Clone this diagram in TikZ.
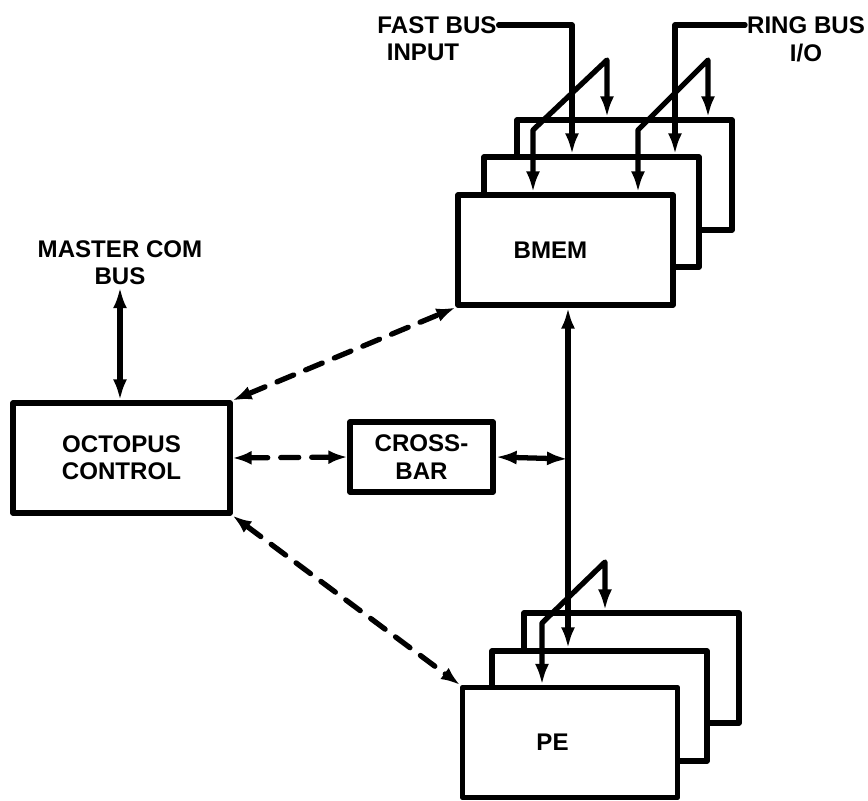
\documentclass[tikz,border=0pt]{standalone}
\usepackage{fontspec}
\setmainfont{Liberation Sans}
\usepackage{tikz}
\usetikzlibrary{arrows.meta,calc,positioning}

\begin{document}
\begin{tikzpicture}[>={Latex[length=0.42cm,width=0.28cm]}, line cap=round, line join=round,
   font=\fontsize{13.7pt}{15.5pt}\selectfont\bfseries,
   blockbox/.style={draw, fill=white, line width=3pt, minimum width=4.3cm, minimum height=2.2cm, inner sep=0pt, align=center},
   lbl/.style={inner sep=1pt, align=center},
   wire/.style={line width=3pt},
   dashlink/.style={line width=3pt, dash pattern=on 0.36cm off 0.26cm, <->, >={Latex[length=0.38cm,width=0.28cm]}}]
   \path[use as bounding box] (0,0) rectangle (17.36,16); % keep the page proportions
   % OCTOPUS: control, crossbar, stacked BMEM and PE units

   % stacked BMEM units (back to front)
   \node[blockbox] (bmem3) at (12.49,12.50) {};
   \node[blockbox] (bmem2) at (11.83,11.76) {};
   \node[blockbox] (bmem) at (11.31,11.00) {BMEM\hspace*{0.6cm}};

   % stacked PE units (back to front)
   \node[blockbox] (pe3) at (12.63,2.64) {};
   \node[blockbox] (pe2) at (11.99,1.88) {};
   \node[blockbox] (pe) at (11.40,1.15) {PE\hspace*{0.7cm}};

   \node[blockbox, minimum width=4.34cm] (octopus) at (2.43,6.84) {OCTOPUS\\CONTROL};
   \node[blockbox, minimum width=2.86cm, minimum height=1.4cm] (crossbar) at (8.43,6.86) {CROSS-\\BAR};

   % bus labels
   \node[lbl] (fast) at (8.74,15.50) {FAST BUS};
   \node[lbl, below=0.12cm of fast, xshift=-0.28cm] (fastin) {INPUT};
   \node[lbl] (ring) at (16.12,15.50) {RING BUS};
   \node[lbl, below=0.12cm of ring] (ringio) {I/O};
   \node[lbl] (master) at (2.40,10.74) {MASTER COM\\BUS};

   % fan-out points
   \coordinate (fbl) at (10.66,13.40);
   \coordinate (fbr) at (12.14,14.80);
   \coordinate (rbl) at (12.76,13.40);
   \coordinate (rbr) at (14.16,14.80);
   \coordinate (pbl) at (10.84,3.54);
   \coordinate (pbr) at (12.10,4.76);
   \coordinate (bus) at (11.36,6.82);

   % fast bus input into the BMEM stack
   \draw[wire,->] (fast.east) -| ([xshift=-0.39cm]bmem2.north);
   \draw[wire,<->] (fbl |- bmem.north) -- (fbl) -- (fbr) -- (fbr |- bmem3.north);

   % ring bus I/O into the BMEM stack
   \draw[wire,->] (ring.west) -| ([xshift=1.67cm]bmem2.north);
   \draw[wire,<->] (rbl |- bmem.north) -- (rbl) -- (rbr) -- (rbr |- bmem3.north);

   % BMEM -- PE bus and crossbar tap
   \draw[wire,<->] (bus |- bmem.south) -- (bus |- pe2.north);
   \draw[wire,<->] (pbl |- pe.north) -- (pbl) -- (pbr) -- (pbr |- pe3.north);
   \draw[wire,<->] (crossbar.east) -- (bus);

   % master com bus
   \draw[wire,<->] (master.south) -- (master.south |- octopus.north);

   % octopus control links
   \draw[dashlink] (octopus.north east) -- (bmem.south west);
   \draw[dashlink] (octopus.east) -- (crossbar.west);
   \draw[dashlink] (octopus.south east) -- (pe.north west);

\end{tikzpicture}
\end{document}
